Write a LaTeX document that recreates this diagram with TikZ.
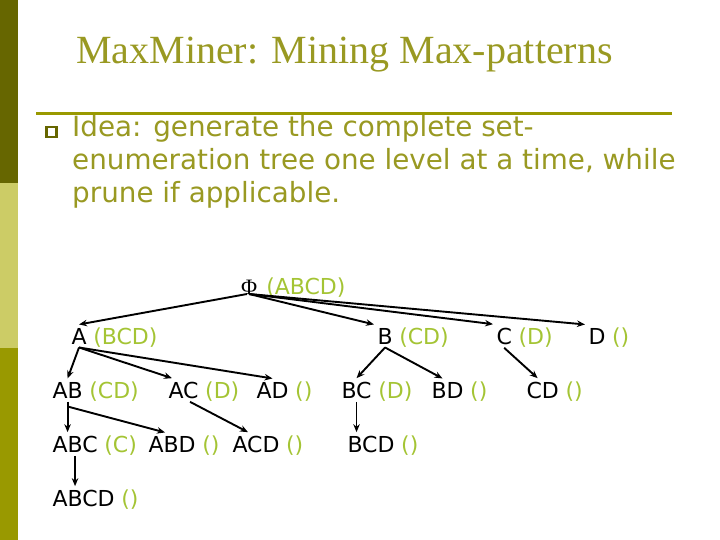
\documentclass[tikz,border=0pt]{standalone}
\usepackage{fontspec}
\setmainfont{Liberation Serif}
\newfontfamily\bodyfont{DejaVu Sans}
\usetikzlibrary{arrows.meta}
\definecolor{bardark}{RGB}{102,102,0}
\definecolor{barlight}{RGB}{204,204,102}
\definecolor{barmid}{RGB}{153,153,0}
\definecolor{olivetext}{RGB}{153,153,34}
\definecolor{rulecol}{RGB}{153,153,0}
\definecolor{bulletcol}{RGB}{102,102,0}
\definecolor{setgreen}{RGB}{164,196,52}
\newcommand\treefont{\bodyfont\fontsize{22bp}{26bp}\selectfont}
\tikzset{
  item/.style={inner sep=0pt, outer sep=3.5bp, anchor=base west, font=\treefont, text=black},
  tail/.style={inner sep=0pt, anchor=base west, font=\treefont, text=setgreen},
  body/.style={inner sep=0pt, anchor=base west, font=\bodyfont\fontsize{27.8bp}{33bp}\selectfont, text=olivetext},
  edge/.style={-{Stealth[length=8bp,width=6.5bp]}, line width=1.9bp, black}
}
\begin{document}
\begin{tikzpicture}[x=1bp,y=-1bp]
\useasboundingbox (0,0) rectangle (720,540);
% side bar
\fill[bardark] (0,0) rectangle (18,183);
\fill[barlight] (0,183) rectangle (18,348);
\fill[barmid] (0,348) rectangle (18,540);
% title
\node[anchor=base, inner sep=0pt, text=olivetext, font=\fontsize{40bp}{48bp}\selectfont] (title) at (344.5,64) {MaxMiner: Mining Max-patterns};
\draw[rulecol, line width=3bp] (36,114) -- (672,114);
% bullet text
\node[draw=bulletcol, line width=2.3bp, minimum size=10bp, inner sep=0pt] (bullet) at (51.5,132) {};
\node[body] (l1) at (72,137) {Idea: generate the complete set-};
\node[body] (l2) at (72,170) {enumeration tree one level at a time, while};
\node[body] (l3) at (72,203) {prune if applicable.};
% tree nodes
\node[item, outer sep=0pt, font=\fontsize{22bp}{26bp}\selectfont] (phi) at (241,294) {Φ};
\node[tail] (phit) at ([xshift=9bp]phi.base east) {(ABCD)};
\node[item] (A) at (68,344) {A};
\node[tail] (At) at ([xshift=3bp]A.base east) {(BCD)};
\node[item] (B) at (374,344) {B};
\node[tail] (Bt) at ([xshift=3bp]B.base east) {(CD)};
\node[item] (C) at (493,344) {C};
\node[tail] (Ct) at ([xshift=3bp]C.base east) {(D)};
\node[item] (D) at (585,344) {D};
\node[tail] (Dt) at ([xshift=3bp]D.base east) {()};
\node[item] (AB) at (49,398) {AB};
\node[tail] (ABt) at ([xshift=3bp]AB.base east) {(CD)};
\node[item] (AC) at (165,398) {AC};
\node[tail] (ACt) at ([xshift=3bp]AC.base east) {(D)};
\node[item] (AD) at (253,398) {AD};
\node[tail] (ADt) at ([xshift=3bp]AD.base east) {()};
\node[item] (BC) at (338,398) {BC};
\node[tail] (BCt) at ([xshift=3bp]BC.base east) {(D)};
\node[item] (BD) at (428,398) {BD};
\node[tail] (BDt) at ([xshift=3bp]BD.base east) {()};
\node[item] (CD) at (523,398) {CD};
\node[tail] (CDt) at ([xshift=3bp]CD.base east) {()};
\node[item] (ABC) at (49,452) {ABC};
\node[tail] (ABCt) at ([xshift=3bp]ABC.base east) {(C)};
\node[item] (ABD) at (145,452) {ABD};
\node[tail] (ABDt) at ([xshift=3bp]ABD.base east) {()};
\node[item] (ACD) at (229,452) {ACD};
\node[tail] (ACDt) at ([xshift=3bp]ACD.base east) {()};
\node[item] (BCD) at (344,452) {BCD};
\node[tail] (BCDt) at ([xshift=3bp]BCD.base east) {()};
\node[item] (ABCD) at (49,506) {ABCD};
\node[tail] (ABCDt) at ([xshift=3bp]ABCD.base east) {()};
% edges
\draw[edge] ([xshift=-2bp]phi.south) -- (A.north);
\draw[edge] (phi.south) -- (B.north west);
\draw[edge] (phi.south) -- (C.north west);
\draw[edge] (phi.south) -- (D.north west);
\draw[edge] (A.south) -- (AB.north);
\draw[edge] (A.south) -- ([xshift=7bp]AC.north west);
\draw[edge] (A.south) -- (AD.north);
\draw[edge] (B.south) -- (BC.north);
\draw[edge] (B.south) -- ([xshift=-5bp]BD.north);
\draw[edge] (C.south) -- ([xshift=-5bp]CD.north);
\draw[edge] (AB.south) -- (AB.south |- ABC.north);
\draw[edge] ([yshift=-5bp]AB.south) -- ([xshift=-7bp]ABD.north);
\draw[edge] ([xshift=6.5bp]AC.south) -- ([xshift=-8bp]ACD.north);
\draw[edge] (ABC.south) -- (ABC.south |- ABCD.north);
\draw[edge] (BC.south) -- (BC.south |- BCD.north);
\end{tikzpicture}
\end{document}
